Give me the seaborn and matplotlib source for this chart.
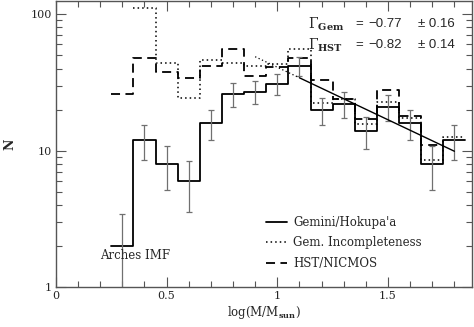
import matplotlib
matplotlib.use("Agg")
import matplotlib.pyplot as plt
import seaborn as sns
import numpy as np
from matplotlib.ticker import FixedLocator, NullFormatter, LogLocator

### data ###
# Gemini/Hokupa'a counts per 0.1 dex bin (bin centres)
gem_logm = [0.3, 0.4, 0.5, 0.6, 0.7, 0.8, 0.9, 1.0, 1.1, 1.2, 1.3, 1.4, 1.5, 1.6, 1.7, 1.8]
gem_n = [2, 12, 8, 6, 16, 26, 27, 31, 42, 20, 22, 14, 21, 16, 8, 12]
gem_err = [1.41, 3.46, 2.83, 2.45, 4.0, 5.1, 5.2, 5.57, 6.48, 4.47, 4.69, 3.74, 4.58, 4.0, 2.83, 3.46]

# Gemini corrected for incompleteness
inc_logm = [0.4, 0.5, 0.6, 0.7, 0.8, 0.9, 1.0, 1.1, 1.2, 1.3, 1.4, 1.5, 1.6, 1.7, 1.8]
inc_n = [111, 44, 24.5, 46, 44, 42, 43, 56, 22.5, 24, 15.8, 22.7, 17.4, 8.6, 12.6]

# HST/NICMOS
hst_logm = [0.3, 0.4, 0.5, 0.6, 0.7, 0.8, 0.9, 1.0, 1.1, 1.2, 1.3, 1.4, 1.5, 1.6, 1.7]
hst_n = [26, 48, 38, 34, 42, 56, 35, 41, 48, 33, 24, 17, 28, 18, 11]

# power-law fit line
fit_logm = [0.9, 1.1, 1.8]
fit_n = [48.8, 34.2, 9.9]

slope_labels = ["Gem", "HST"]
slope_vals = ["\u22120.77", "\u22120.82"]
slope_errs = ["0.16", "0.14"]

legend_labels = ["Gemini/Hokupa'a", "Gem. Incompleteness", "HST/NICMOS"]


def steps(centres, vals, w=0.1):
    # edges + repeated last value for steps-post
    edges = [c - w / 2 for c in centres] + [centres[-1] + w / 2]
    return edges, list(vals) + [vals[-1]]


sns.set_style("ticks")
plt.rcParams['font.family'] = ['DejaVu Serif']
plt.rcParams['mathtext.fontset'] = 'dejavuserif'

fig = plt.figure(figsize=(4.74, 3.27), dpi=100)
ax = fig.add_axes([0.118, 0.122, 0.878, 0.875])

x, y = steps(gem_logm, gem_n)
sns.lineplot(x=x, y=y, drawstyle="steps-post", color="k", lw=1.3,
             estimator=None, sort=False, ax=ax, label=legend_labels[0])
x, y = steps(inc_logm, inc_n)
sns.lineplot(x=x, y=y, drawstyle="steps-post", color="k", lw=1.1,
             linestyle=(0, (1, 2)), estimator=None, sort=False, ax=ax,
             label=legend_labels[1])
x, y = steps(hst_logm, hst_n)
sns.lineplot(x=x, y=y, drawstyle="steps-post", color="k", lw=1.3,
             linestyle=(0, (5, 3)), estimator=None, sort=False, ax=ax,
             label=legend_labels[2])

ax.errorbar(gem_logm, gem_n, yerr=gem_err, fmt="none", ecolor="#707070",
            elinewidth=0.9, capsize=2.5, capthick=0.9)

# fit: dotted extension then solid
ax.plot(fit_logm[:2], fit_n[:2], color="k", lw=0.9, linestyle=(0, (1, 2)))
ax.plot(fit_logm[1:], fit_n[1:], color="k", lw=1.0)

ax.set_yscale("log")
ax.set_xlim(0, 1.88)
ax.set_ylim(1, 125)

ax.xaxis.set_major_locator(FixedLocator([0, 0.5, 1, 1.5]))
ax.xaxis.set_minor_locator(FixedLocator(np.arange(0.1, 1.881, 0.1)))
ax.set_xticklabels(["0", "0.5", "1", "1.5"])
ax.yaxis.set_major_locator(FixedLocator([1, 10, 100]))
ax.yaxis.set_minor_locator(LogLocator(base=10, subs=np.arange(2, 10)))
ax.yaxis.set_minor_formatter(NullFormatter())
ax.set_yticklabels(["1", "10", "100"])

ax.tick_params(which="both", direction="in", top=True, right=True,
               color="#555555", labelsize=8, pad=3)
ax.tick_params(which="major", length=7, width=0.8)
ax.tick_params(which="minor", length=4, width=0.8)
for s in ax.spines.values():
    s.set_color("#555555")
    s.set_linewidth(1.0)

ax.set_xlabel(r"log(M/M$_{\mathbf{sun}}$)", fontsize=8.5, labelpad=2)
ax.set_ylabel("N", fontsize=9, fontweight="bold", labelpad=10)

ax.text(0.20, 1.62, "Arches IMF", fontsize=8.5)

# slope annotations
for i, (lab, val, err) in enumerate(zip(slope_labels, slope_vals, slope_errs)):
    yy = 0.92 - i * 0.075
    ax.text(0.605, yy, r"$\Gamma_{\mathbf{%s}}$" % lab, transform=ax.transAxes,
            fontsize=10, va="center")
    ax.text(0.72, yy, "=", transform=ax.transAxes, fontsize=9.5,
            va="center", family="Liberation Sans")
    ax.text(0.75, yy, val, transform=ax.transAxes, fontsize=9.5,
            va="center", family="Liberation Sans")
    ax.text(0.87, yy, "\u00b1 " + err, transform=ax.transAxes, fontsize=9.5,
            va="center", family="Liberation Sans")

ax.legend(loc="upper left", bbox_to_anchor=(0.49, 0.27), frameon=False,
          fontsize=8.5, handlelength=1.8, handletextpad=0.5,
          labelspacing=0.65, borderpad=0)

fig.savefig("out.png", dpi=100)
